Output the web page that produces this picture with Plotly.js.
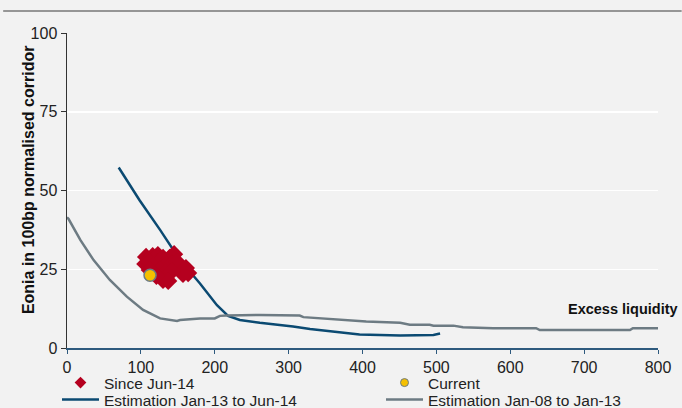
<!DOCTYPE html>
<html>
<head>
<meta charset="utf-8">
<script src="https://cdn.plot.ly/plotly-3.0.1.min.js"></script>
<style>html,body{margin:0;padding:0;background:#f2f2f2;}#chart{width:682px;height:408px;}</style>
</head>
<body>
<div id="chart"></div>
<script>
// Estimation Jan-13 to Jun-14 (blue)
var est1X = [70, 98, 126, 153, 180, 203, 218, 234, 261, 284, 306, 329, 374, 396, 451, 496, 505];
var est1Y = [57.3, 47.0, 37.5, 27.9, 20.5, 13.6, 10.2, 8.9, 8.0, 7.5, 6.8, 6.0, 4.9, 4.3, 4.0, 4.1, 4.6];
// Estimation Jan-08 to Jan-13 (grey)
var est2X = [0, 2, 18, 36, 58, 81, 103, 126, 149, 153, 180, 200, 207, 216, 261, 315, 320, 360, 405, 451, 464, 491, 496, 523, 536, 577, 635, 640, 762, 766, 800];
var est2Y = [41.5, 41.0, 34.3, 27.9, 21.6, 16.3, 12.1, 9.4, 8.6, 8.9, 9.4, 9.4, 10.2, 10.3, 10.5, 10.3, 9.8, 9.1, 8.4, 8.0, 7.4, 7.4, 7.1, 7.1, 6.6, 6.3, 6.3, 5.7, 5.7, 6.3, 6.3];
// Since Jun-14 (red diamonds)
var sinceX = [107, 116, 123, 106, 112, 122, 130, 139, 145, 134, 142, 149, 161, 164, 157, 126, 134, 142, 130, 137, 121, 112];
var sinceY = [28.9, 29.2, 29.5, 26.7, 27.3, 27.3, 28.6, 28.6, 29.8, 26.3, 26.7, 27.3, 25.4, 23.8, 23.5, 24.8, 24.1, 24.4, 21.6, 21.3, 22.9, 24.8];
// Current
var currX = [112.4];
var currY = [23.1];

var font = "'Liberation Sans', Arial, sans-serif";
var red = '#b5001f', yellow = '#f5c000', blue = '#0b4a72', grey = '#6d7b83';

var traces = [
  {x: est1X, y: est1Y, mode: 'lines', type: 'scatter', name: 'Estimation Jan-13 to Jun-14',
   line: {color: blue, width: 2.5}, showlegend: false},
  {x: est2X, y: est2Y, mode: 'lines', type: 'scatter', name: 'Estimation Jan-08 to Jan-13',
   line: {color: grey, width: 2.5}, showlegend: false},
  {x: sinceX, y: sinceY, mode: 'markers', type: 'scatter', name: 'Since Jun-14',
   marker: {symbol: 'diamond', size: 14, color: red}, showlegend: false},
  {x: currX, y: currY, mode: 'markers', type: 'scatter', name: 'Current',
   marker: {symbol: 'circle', size: 12, color: yellow, line: {color: grey, width: 1.5}}, showlegend: false},
  // legend entries
  {x: [null], y: [null], mode: 'markers', type: 'scatter', name: 'Since Jun-14', legend: 'legend',
   marker: {symbol: 'diamond', size: 9, color: red}},
  {x: [null], y: [null], mode: 'markers', type: 'scatter', name: 'Current', legend: 'legend2',
   marker: {symbol: 'circle', size: 8, color: yellow, line: {color: grey, width: 1}}},
  {x: [null], y: [null], mode: 'lines', type: 'scatter', name: 'Estimation Jan-13 to Jun-14', legend: 'legend3',
   line: {color: blue, width: 2.5}},
  {x: [null], y: [null], mode: 'lines', type: 'scatter', name: 'Estimation Jan-08 to Jan-13', legend: 'legend4',
   line: {color: grey, width: 2.5}}
];

var legendBase = {orientation: 'h', xanchor: 'left', yanchor: 'middle', itemwidth: 37,
  bgcolor: 'rgba(0,0,0,0)', font: {family: font, size: 15.5, color: '#222'}};
var col1 = (57 - 67) / 591, col2 = (381 - 67) / 591;
var row1 = -(383 - 348) / 315, row2 = -(400 - 348) / 315;

var layout = {
  width: 682, height: 408,
  paper_bgcolor: '#f2f2f2', plot_bgcolor: '#f2f2f2',
  margin: {l: 67, r: 24, t: 33, b: 60, autoexpand: false},
  font: {family: font, size: 16, color: '#222'},
  xaxis: {range: [0, 800], tickvals: [0,100,200,300,400,500,600,700,800], showgrid: false, zeroline: false,
    showline: true, linecolor: '#2e5a7e', linewidth: 1.5, ticks: 'outside', ticklen: 4, tickcolor: '#2e5a7e',
    tickfont: {family: font, size: 16, color: '#222'}},
  yaxis: {range: [0, 100], tickvals: [0,25,50,75,100], showgrid: true, gridcolor: '#ffffff', gridwidth: 1.5,
    zeroline: false, showline: true, linecolor: '#333', linewidth: 1.5, ticks: 'outside', ticklen: 5, tickcolor: '#333',
    tickfont: {family: font, size: 16, color: '#222'}},
  showlegend: true,
  legend: Object.assign({}, legendBase, {x: col1, y: row1}),
  legend2: Object.assign({}, legendBase, {x: col2, y: row1}),
  legend3: Object.assign({}, legendBase, {x: col1, y: row2}),
  legend4: Object.assign({}, legendBase, {x: col2, y: row2}),
  shapes: [{type: 'line', xref: 'paper', yref: 'paper', x0: -0.108, x1: 1.04, y0: 1.07, y1: 1.07,
    line: {color: '#777', width: 1.5}}],
  annotations: [
    {text: '<b>Excess liquidity</b>', xref: 'paper', yref: 'paper', x: 1.037, y: 0.124,
     xanchor: 'right', yanchor: 'middle', showarrow: false, font: {family: font, size: 14.5, color: '#111'}},
    {text: '<b>Eonia in 100bp normalised corridor</b>', xref: 'paper', yref: 'paper', x: (28 - 67) / 591, y: 0.533,
     xanchor: 'center', yanchor: 'middle', textangle: -90, showarrow: false, font: {family: font, size: 16, color: '#111'}}
  ]
};

Plotly.newPlot('chart', traces, layout, {displayModeBar: false, staticPlot: true});
</script>
</body>
</html>
